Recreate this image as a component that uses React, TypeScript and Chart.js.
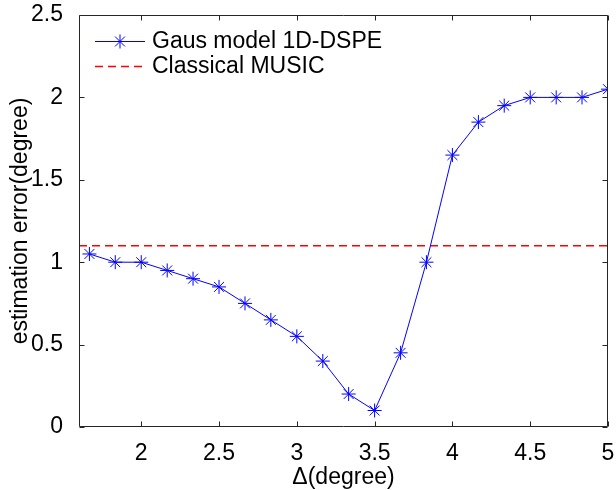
import React, { useEffect, useRef } from 'react';
import { Chart, registerables } from 'chart.js';

Chart.register(...registerables);

// ---- data ----
const deltaDeg = [1.667, 1.833, 2, 2.167, 2.333, 2.5, 2.667, 2.833, 3, 3.167, 3.333, 3.5, 3.667, 3.833, 4, 4.167, 4.333, 4.5, 4.667, 4.833, 5];
const gausError = [1.05, 1.0, 1.0, 0.95, 0.9, 0.85, 0.75, 0.65, 0.55, 0.4, 0.2, 0.1, 0.45, 1.0, 1.65, 1.85, 1.95, 2.0, 2.0, 2.0, 2.05];
const musicDelta = [1.6, 5];
const musicError = [1.1, 1.1];
const xTickValues = [2, 2.5, 3, 3.5, 4, 4.5, 5];
const yTickValues = [0, 0.5, 1, 1.5, 2, 2.5];
const seriesLabels = ['Gaus model 1D-DSPE', 'Classical MUSIC'];
const xTitle = '\u0394(degree)';
const yTitle = 'estimation error(degree)';

const FONT = '"Liberation Sans", Arial, Helvetica, sans-serif';
const FONT_SIZE = 23;
const BLUE = '#0000ff';
const RED = '#ff0000';
const AXIS = '#262626';
const DASH = [8, 5];

function drawStar(ctx: CanvasRenderingContext2D, x: number, y: number, r: number) {
  ctx.beginPath();
  ctx.moveTo(x - r, y);
  ctx.lineTo(x + r, y);
  ctx.moveTo(x, y - r);
  ctx.lineTo(x, y + r);
  const d = r * Math.SQRT1_2;
  ctx.moveTo(x - d, y - d);
  ctx.lineTo(x + d, y + d);
  ctx.moveTo(x - d, y + d);
  ctx.lineTo(x + d, y - d);
  ctx.stroke();
}

export default function App() {
  const ref = useRef<HTMLCanvasElement>(null);

  useEffect(() => {
    document.body.style.margin = '0';
    const canvas = ref.current;
    if (!canvas) return;

    const boxPlugin = {
      id: 'matlabBox',
      afterDraw(chart: any) {
        const { ctx, chartArea, scales } = chart;
        const L = Math.round(chartArea.left) + 0.5;
        const R = Math.round(chartArea.right) - 0.5;
        const T = Math.round(chartArea.top) + 0.5;
        const B = Math.round(chartArea.bottom) - 0.5;
        const tl = 5;
        ctx.save();
        ctx.strokeStyle = AXIS;
        ctx.lineWidth = 1;
        ctx.setLineDash([]);
        ctx.beginPath();
        ctx.rect(L, T, R - L, B - T);
        ctx.stroke();
        ctx.beginPath();
        for (const v of xTickValues) {
          const px = Math.round(scales.x.getPixelForValue(v)) + 0.5;
          ctx.moveTo(px, B);
          ctx.lineTo(px, B - tl);
          ctx.moveTo(px, T);
          ctx.lineTo(px, T + tl);
        }
        for (const v of yTickValues) {
          const py = Math.round(scales.y.getPixelForValue(v)) + 0.5;
          ctx.moveTo(L, py);
          ctx.lineTo(L + tl, py);
          ctx.moveTo(R, py);
          ctx.lineTo(R - tl, py);
        }
        ctx.stroke();

        // legend (inside the axes, top-left, no box)
        const x0 = chartArea.left + 16;
        const x1 = x0 + 50;
        const tx = x1 + 7;
        const rows = [chartArea.top + 26, chartArea.top + 50.5];
        ctx.font = `${FONT_SIZE}px ${FONT}`;
        ctx.textBaseline = 'middle';
        ctx.textAlign = 'left';
        // row 1
        ctx.strokeStyle = BLUE;
        ctx.beginPath();
        ctx.moveTo(x0, Math.round(rows[0]) + 0.5);
        ctx.lineTo(x1, Math.round(rows[0]) + 0.5);
        ctx.stroke();
        drawStar(ctx, (x0 + x1) / 2, Math.round(rows[0]) + 0.5, 7);
        ctx.fillStyle = '#000';
        ctx.fillText(seriesLabels[0], tx, rows[0] + 1);
        // row 2
        ctx.strokeStyle = RED;
        ctx.lineWidth = 1.4;
        ctx.setLineDash(DASH);
        ctx.beginPath();
        ctx.moveTo(x0, Math.round(rows[1]) + 0.5);
        ctx.lineTo(x1, Math.round(rows[1]) + 0.5);
        ctx.stroke();
        ctx.setLineDash([]);
        ctx.fillText(seriesLabels[1], tx, rows[1] + 1);
        ctx.restore();
      },
    };

    const chart = new Chart(canvas, {
      type: 'line',
      data: {
        datasets: [
          {
            label: seriesLabels[0],
            data: deltaDeg.map((x, i) => ({ x, y: gausError[i] })),
            borderColor: BLUE,
            borderWidth: 1,
            pointStyle: 'star',
            pointRadius: 7,
            pointBorderColor: BLUE,
            pointBorderWidth: 1,
            pointBackgroundColor: BLUE,
            tension: 0,
            fill: false,
          },
          {
            label: seriesLabels[1],
            data: musicDelta.map((x, i) => ({ x, y: musicError[i] })),
            borderColor: RED,
            borderWidth: 1.4,
            borderDash: DASH,
            pointRadius: 0,
            tension: 0,
            fill: false,
          },
        ],
      },
      options: {
        animation: false,
        responsive: false,
        devicePixelRatio: 1,
        layout: { padding: { top: 15, right: 5, left: 0, bottom: 0 } },
        plugins: {
          legend: { display: false },
          tooltip: { enabled: false },
        },
        scales: {
          x: {
            type: 'linear',
            min: 1.6,
            max: 5,
            afterBuildTicks: (s: any) => {
              s.ticks = xTickValues.map((v) => ({ value: v }));
            },
            afterFit: (s: any) => {
              s.height = 63;
              s.paddingLeft = 0;
              s.paddingRight = 0;
            },
            grid: { display: false },
            border: { display: false },
            ticks: {
              autoSkip: false,
              maxRotation: 0,
              padding: 5,
              color: '#000',
              font: { family: FONT, size: FONT_SIZE },
              callback: (v: any) => String(v),
            },
            title: {
              display: true,
              text: xTitle,
              color: '#000',
              font: { family: FONT, size: FONT_SIZE, lineHeight: 1.1 },
              padding: 0,
            },
          },
          y: {
            type: 'linear',
            min: 0,
            max: 2.5,
            afterBuildTicks: (s: any) => {
              s.ticks = yTickValues.map((v) => ({ value: v }));
            },
            afterFit: (s: any) => {
              s.width = 79;
              s.paddingTop = 0;
              s.paddingBottom = 0;
            },
            grid: { display: false },
            border: { display: false },
            ticks: {
              padding: 8,
              color: '#000',
              font: { family: FONT, size: FONT_SIZE },
              callback: (v: any) => String(v),
            },
            title: {
              display: true,
              text: yTitle,
              color: '#000',
              font: { family: FONT, size: FONT_SIZE, lineHeight: 1.1 },
              padding: { top: 8, bottom: 0 },
            },
          },
        },
      },
      plugins: [boxPlugin],
    } as any);

    return () => chart.destroy();
  }, []);

  return <canvas ref={ref} width={616} height={490} style={{ display: 'block' }} />;
}
